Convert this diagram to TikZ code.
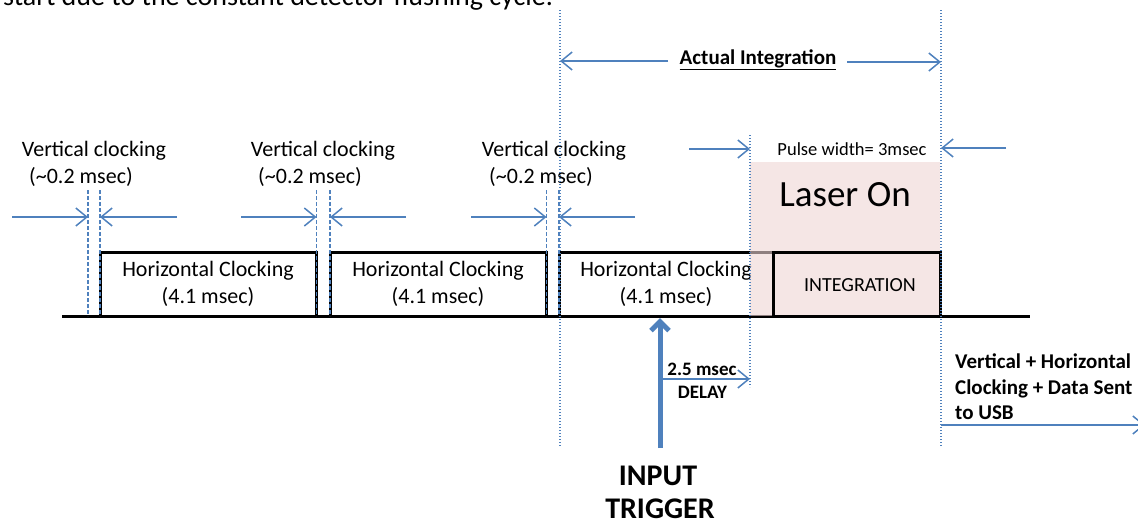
\documentclass[tikz,border=0pt]{standalone}
\usepackage{fontspec}
\setmainfont{Carlito}
\usetikzlibrary{arrows.meta}
\definecolor{myblue}{RGB}{79,129,189}
\definecolor{laserpink}{RGB}{238,213,212}
\begin{document}
\begin{tikzpicture}[x=1pt,y=-1pt,
  sig/.style={draw=black,line width=3pt},
  pulsebox/.style={draw=black,line width=3pt,minimum height=64pt,inner sep=0pt,align=center,font=\fontsize{22}{27}\selectfont},
  lbl/.style={inner sep=0pt,font=\fontsize{22}{27}\selectfont},
  blbl/.style={inner sep=0pt,font=\bfseries\fontsize{19}{23}\selectfont},
  arr/.style={draw=myblue,line width=1.5pt,-{Straight Barb[length=11pt,width=18pt]}},
  trig/.style={draw=myblue,line width=5pt,-{Straight Barb[length=9pt,width=18pt]}},
  dotv/.style={draw=myblue,line width=1.2pt,dash pattern=on 1.2pt off 1.8pt},
  dashv/.style={draw=myblue,line width=1.5pt,dash pattern=on 4pt off 2pt}]
\useasboundingbox (0,0) rectangle (1138,523);
% clipped top text
\node[inner sep=0pt,anchor=base west,font=\fontsize{28}{32}\selectfont] (toptext) at (3,5) {start due to the constant detector flushing cycle.};
% baseline
\coordinate (b0) at (62,316);
\coordinate (b1) at (1030,316);
\draw[sig] (b0) -- (b1);
% pulses
\node[pulsebox,minimum width=216pt] (p1) at (208,284) {Horizontal Clocking\\(4.1 msec)};
\node[pulsebox,minimum width=216pt] (p2) at (438,284) {Horizontal Clocking\\(4.1 msec)};
\node[pulsebox,minimum width=214pt] (p3) at (666,284) {Horizontal Clocking\\(4.1 msec)};
% laser overlay
\node[fill=laserpink,fill opacity=0.6,minimum width=190pt,minimum height=154pt,inner sep=0pt] (laser) at (845,239) {};
\node[inner sep=0pt,font=\fontsize{37}{40}\selectfont] (lasertxt) at (845,195) {Laser On};
\node[pulsebox,minimum width=167pt] (integ) at (856.5,284) {};
\node[lbl,font=\fontsize{20}{24}\selectfont] (integtxt) at (860,285) {INTEGRATION};
% vertical clocking labels
\node[lbl] (vc1a) at (94,151) {Vertical clocking};
\node[lbl] (vc1b) at (81,177) {(\textasciitilde0.2 msec)};
\node[lbl] (vc2a) at (323,151) {Vertical clocking};
\node[lbl] (vc2b) at (310,177) {(\textasciitilde0.2 msec)};
\node[lbl] (vc3a) at (554,151) {Vertical clocking};
\node[lbl] (vc3b) at (541,177) {(\textasciitilde0.2 msec)};
% dashed vertical clocking lines
\foreach \n/\xx in {d1/88,d2/100,d3/316.5,d4/330,d5/546.5,d6/559}{
  \coordinate (\n t) at (\xx,190);
  \coordinate (\n b) at (\xx,316);
  \draw[dashv] (\n t) -- (\n b);
}
% vertical clocking arrows
\coordinate (a1s) at (12,217);  \coordinate (a1e) at (88,217);
\coordinate (a2s) at (177,217); \coordinate (a2e) at (100,217);
\coordinate (a3s) at (241,217); \coordinate (a3e) at (316.5,217);
\coordinate (a4s) at (406,217); \coordinate (a4e) at (330,217);
\coordinate (a5s) at (471,217); \coordinate (a5e) at (546.5,217);
\coordinate (a6s) at (635,217); \coordinate (a6e) at (559,217);
\foreach \n in {1,...,6}{\draw[arr] (a\n s) -- (a\n e);}
% dotted lines
\coordinate (dAt) at (560,10);  \coordinate (dAb) at (560,447);
\coordinate (dBt) at (750,135); \coordinate (dBb) at (750,387);
\coordinate (dCt) at (941,10);  \coordinate (dCb) at (941,447);
\draw[dotv] (dAt) -- (dAb);
\draw[dotv] (dBt) -- (dBb);
\draw[dotv] (dCt) -- (dCb);
% actual integration
\node[inner sep=0pt,font=\bfseries\fontsize{21}{24}\selectfont] (actual) at (758,60) {\underline{Actual Integration}};
\coordinate (ai1) at (668,61); \coordinate (ai1e) at (560,61);
\coordinate (ai2) at (847,62); \coordinate (ai2e) at (941,62);
\draw[arr] (ai1) -- (ai1e);
\draw[arr] (ai2) -- (ai2e);
% pulse width
\node[inner sep=0pt,font=\fontsize{18.5}{22}\selectfont] (pw) at (852,149) {Pulse width= 3msec};
\coordinate (pw1) at (689,149); \coordinate (pw1e) at (750,149);
\coordinate (pw2) at (1006,148); \coordinate (pw2e) at (941,148);
\draw[arr] (pw1) -- (pw1e);
\draw[arr] (pw2) -- (pw2e);
% trigger and delay
\coordinate (trs) at (660,448); \coordinate (tre) at (660,318);
\draw[trig] (trs) -- (tre);
\coordinate (dls) at (660,379); \coordinate (dle) at (750,379);
\draw[arr] (dls) -- (dle);
\node[blbl] (delay1) at (702,369) {2.5 msec};
\node[blbl] (delay2) at (702.5,392) {DELAY};
\node[inner sep=0pt,font=\bfseries\fontsize{30}{36}\selectfont] (input) at (658,476) {INPUT};
\node[inner sep=0pt,font=\bfseries\fontsize{30}{36}\selectfont] (trigger) at (660,509) {TRIGGER};
% after integration
\node[inner sep=0pt,anchor=west,align=left,font=\bfseries\fontsize{21}{25.5}\selectfont] (usbtxt) at (955,387) {Vertical + Horizontal\\Clocking + Data Sent\\to USB};
\coordinate (us) at (941,425); \coordinate (ue) at (1145,425);
\draw[arr] (us) -- (ue);
\end{tikzpicture}
\end{document}
